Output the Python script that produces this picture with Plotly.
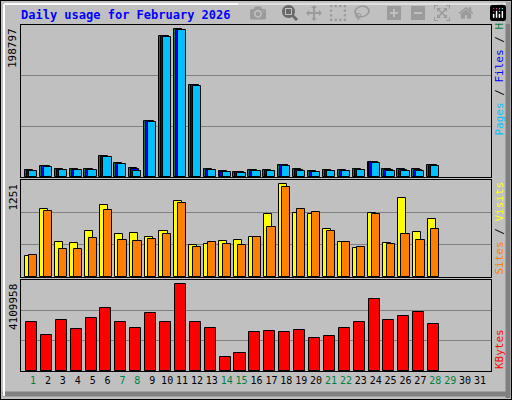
import plotly.graph_objects as go

days = list(range(1, 29))
all_days = list(range(1, 32))
weekend = [1, 7, 8, 14, 15, 21, 22, 28, 29]

hits = [8760, 14390, 10460, 10460, 10460, 27470, 17920, 11770, 73250, 184400, 193200, 120300, 10460, 7460,
        6540, 9160, 9160, 15700, 10460, 7460, 9160, 9160, 10460, 19620, 10460, 10460, 10460, 15700]
files = [8100, 14000, 9800, 9800, 9800, 26800, 17300, 11100, 72600, 183800, 192600, 119700, 9800, 6800,
         6000, 8500, 8500, 15100, 9800, 6800, 8500, 8500, 9800, 19000, 9800, 9800, 9800, 15100]
pages = [7300, 13600, 9000, 9000, 9000, 26100, 16500, 8000, 72000, 183200, 192000, 119100, 9000, 6000,
         5600, 7800, 7800, 14400, 8000, 6000, 7800, 7800, 8900, 17900, 8000, 8000, 8000, 14400]
visits = [268, 879, 446, 433, 589, 931, 550, 563, 511, 589, 978, 407, 420, 459, 472, 511, 810, 1199, 823, 810,
          615, 446, 368, 823, 433, 1017, 576, 745]
sites = [290, 849, 355, 355, 498, 861, 472, 459, 485, 550, 952, 381, 446, 420, 407, 511, 641, 1160, 874, 835,
         589, 446, 381, 810, 420, 550, 472, 615]
kbytes = [2213000, 1609000, 2299000, 1911000, 2385000, 2860000, 2213000, 1954000, 2601000, 2213000, 3937000,
          2213000, 1954000, 618000, 833000, 1782000, 1825000, 1782000, 1868000, 1480000, 1566000, 1954000,
          2213000, 3248000, 2299000, 2472000, 2687000, 2127000]
max_hits, max_visits, max_kb = 198797, 1251, 4109958

FONT = "DejaVu Sans Mono"
line = dict(color="black", width=1)

fig = go.Figure()
# top panel: hits / files / pages
fig.add_trace(go.Bar(x=days, y=hits, width=0.55, offset=-0.55, marker=dict(color="#008040", line=line), yaxis="y3", xaxis="x3"))
fig.add_trace(go.Bar(x=days, y=files, width=0.55, offset=-0.42, marker=dict(color="#0000FF", line=line), yaxis="y3", xaxis="x3"))
fig.add_trace(go.Bar(x=days, y=pages, width=0.55, offset=-0.28, marker=dict(color="#00C0FF", line=line), yaxis="y3", xaxis="x3"))
# middle: visits / sites
fig.add_trace(go.Bar(x=days, y=visits, width=0.55, offset=-0.52, marker=dict(color="#FFFF00", line=line), yaxis="y2", xaxis="x2"))
fig.add_trace(go.Bar(x=days, y=sites, width=0.55, offset=-0.27, marker=dict(color="#FF8000", line=line), yaxis="y2", xaxis="x2"))
# bottom: kbytes
fig.add_trace(go.Bar(x=days, y=kbytes, width=0.74, offset=-0.48, marker=dict(color="#FF0000", line=line), yaxis="y", xaxis="x"))

xr = [0.19, 31.74]
xdom = [21 / 512, 491 / 512]
ticktext = ['<span style="color:%s">%d</span>' % ("#008040" if d in weekend else "black", d) for d in all_days]
xcommon = dict(range=xr, domain=xdom, showgrid=False, zeroline=False, fixedrange=True,
               showline=True, linecolor="black", mirror=True, linewidth=1)

def ydom(top, bot):
    return [1 - bot / 400, 1 - top / 400]

def yax(mx, dom):
    return dict(range=[0, mx], domain=dom, tickvals=[mx / 3, 2 * mx / 3], showticklabels=False,
                gridcolor="#808080", gridwidth=1, zeroline=False, showline=True, linecolor="black",
                mirror=True, linewidth=1)

fig.update_layout(
    width=512, height=400, margin=dict(l=0, r=0, t=0, b=0),
    paper_bgcolor="#C0C0C0", plot_bgcolor="#C0C0C0",
    barmode="overlay", showlegend=False, bargap=0,
    font=dict(family=FONT, size=11, color="black"),
    xaxis=dict(xcommon, tickvals=all_days, ticktext=ticktext, ticks="", tickangle=0,
               tickfont=dict(size=10), anchor="y"),
    xaxis2=dict(xcommon, showticklabels=False, anchor="y2"),
    xaxis3=dict(xcommon, showticklabels=False, anchor="y3"),
    yaxis=yax(max_kb, ydom(280, 371)),
    yaxis2=yax(max_visits, ydom(180, 277)),
    yaxis3=yax(max_hits, ydom(25, 177)),
)

# frame around the picture
fig.add_shape(type="rect", xref="paper", yref="paper", x0=0, y0=0, x1=1, y1=1, line=dict(color="black", width=2))
fig.add_shape(type="line", xref="paper", yref="paper", x0=508 / 512, y0=0.005, x1=508 / 512, y1=0.995,
              line=dict(color="#808080", width=5))
fig.add_shape(type="line", xref="paper", yref="paper", x0=0.005, y0=6 / 400, x1=0.995, y1=6 / 400,
              line=dict(color="#808080", width=5))
fig.add_shape(type="line", xref="paper", yref="paper", x0=4 / 512, y0=4 / 400, x1=4 / 512, y1=396 / 400,
              line=dict(color="white", width=2))
fig.add_shape(type="line", xref="paper", yref="paper", x0=4 / 512, y0=396 / 400, x1=506 / 512, y1=396 / 400,
              line=dict(color="white", width=2))

fig.add_annotation(text="<b>Daily usage for February 2026</b>", xref="paper", yref="paper", x=19 / 512, y=1 - 15 / 400,
                   xanchor="left", yanchor="middle", showarrow=False, font=dict(color="#0000FF", size=12, family=FONT))

for txt, ytop in [("198797", 26), ("1251", 182), ("4109958", 282)]:
    fig.add_annotation(text=txt, xref="paper", yref="paper", x=13 / 512, y=1 - ytop / 400, textangle=-90,
                       xanchor="center", yanchor="top", showarrow=False, font=dict(size=11, family=FONT))

sl = '<span style="color:black"> / </span>'
right = [('<span style="color:#00C0FF">Pages</span>' + sl + '<span style="color:#0000FF">Files</span>' + sl +
          '<span style="color:#008040">Hits</span>', 138),
         ('<span style="color:#FF8000">Sites</span>' + sl + '<span style="color:#FFFF00">Visits</span>', 277),
         ('<span style="color:#FF0000">KBytes</span>', 371)]
for txt, ybot in right:
    fig.add_annotation(text=txt, xref="paper", yref="paper", x=499 / 512, y=1 - ybot / 400, textangle=-90,
                       xanchor="center", yanchor="bottom", showarrow=False, font=dict(size=11, family=FONT))

fig.write_html("out.html", post_script="document.body.style.margin='0';")
